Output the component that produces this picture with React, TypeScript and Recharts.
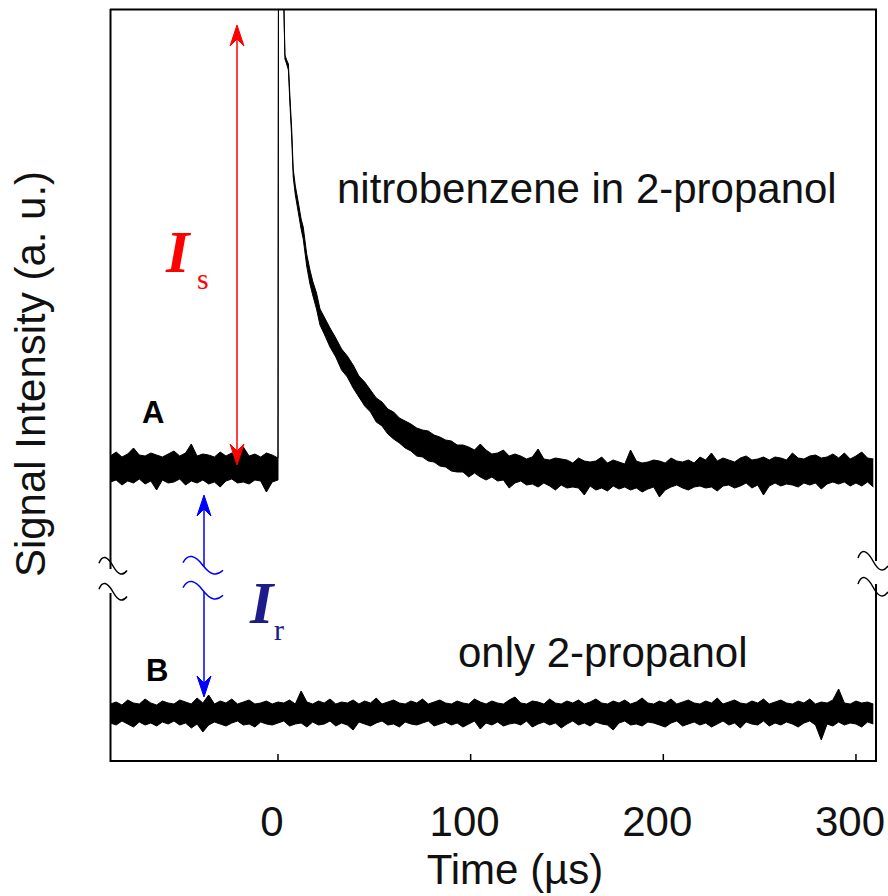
import { ComposedChart, Area, XAxis, YAxis } from "recharts";

// time axis (µs) and signal axis (a.u., bottom of frame = 0)
const X_MIN = -87.2;
const X_MAX = 310.4;
const Y_MAX = 752;
const X_TICKS = [0, 100, 200, 300];

// trace A: nitrobenzene in 2-propanol (noise band low / high)
const TIME_A = [
  -87, -84, -81, -78, -75, -72, -69, -66, -63, -60, -57, -54, -51, -48, -45, -42, -39, -36, -33, -30,
  -27, -24, -21, -18, -15, -12, -9, -6, -3, 0,
  0.3, 2.8,
  3.1, 3.6, 4.5, 5.4, 6.2, 7.1, 7.9, 9, 10.5, 12, 13.1, 14.9, 16.6, 18, 20, 21.8,
  24, 27, 30, 33, 36, 39, 42, 45, 48, 51, 54, 57, 60, 63, 66, 69, 72, 75, 78, 81, 84, 87, 90,
  93, 96, 99, 102, 105, 108, 111, 114, 117, 120, 123, 126, 129, 132, 135, 138, 141, 144, 147, 150,
  153, 156, 159, 162, 165, 168, 171, 174, 177, 180, 183, 186, 189, 192, 195, 198, 201, 204, 207, 210,
  213, 216, 219, 222, 225, 228, 231, 234, 237, 240, 243, 246, 249, 252, 255, 258, 261, 264, 267, 270,
  273, 276, 279, 282, 285, 288, 291, 294, 297, 300, 303, 306, 309,
];
const LOW_A = [
  279, 281, 276, 280, 278, 282, 277, 280, 271, 281, 278, 279, 282, 276, 280, 278, 281, 277, 279, 274,
  280, 282, 278, 279, 277, 281, 280, 269, 279, 281,
  900, 900,
  749, 702, 697, 691, 657, 624, 584, 566, 549, 532, 522, 495, 477, 466, 452, 436,
  427, 414, 404, 391, 384, 373, 364, 355, 349, 339, 335, 327, 322, 318, 313, 310, 305, 304, 300, 299, 295, 294, 290,
  289, 289, 284, 288, 284, 281, 284, 280, 281, 273, 278, 280, 276, 277, 274, 278, 275, 271, 276, 273,
  274, 273, 266, 275, 271, 273, 270, 275, 272, 274, 271, 273, 269, 272, 274, 264, 271, 274, 276, 273,
  271, 274, 275, 273, 274, 270, 275, 276, 273, 275, 278, 273, 276, 266, 275, 278, 275, 277, 276, 274,
  278, 276, 278, 272, 277, 279, 277, 279, 275, 278, 275, 279, 274,
];
const HIGH_A = [
  305, 309, 304, 307, 313, 306, 305, 308, 306, 304, 307, 310, 305, 308, 317, 305, 307, 306, 304, 309,
  305, 308, 306, 314, 305, 307, 304, 308, 306, 303,
  900, 900,
  753, 706, 701, 697, 664, 632, 592, 575, 559, 542, 534, 507, 491, 480, 468, 452,
  444, 433, 423, 412, 405, 396, 385, 379, 371, 363, 359, 352, 349, 343, 340, 337, 333, 331, 330, 326, 324, 321, 320,
  316, 316, 314, 311, 317, 311, 307, 308, 311, 305, 307, 305, 302, 304, 312, 302, 301, 303, 302, 301,
  298, 303, 300, 299, 300, 304, 298, 301, 299, 297, 311, 300, 298, 299, 301, 300, 298, 303, 300, 299,
  301, 298, 304, 301, 308, 300, 303, 301, 299, 303, 305, 301, 302, 304, 301, 304, 303, 301, 308, 303,
  302, 305, 306, 303, 304, 307, 303, 308, 302, 305, 309, 303, 302,
];

// trace B: only 2-propanol
const TIME_B = [
  -87, -84, -81, -78, -75, -72, -69, -66, -63, -60, -57, -54, -51, -48, -45, -42, -39, -36, -33, -30,
  -27, -24, -21, -18, -15, -12, -9, -6, -3, 0, 3, 6, 9, 12, 15, 18, 21, 24, 27, 30,
  33, 36, 39, 42, 45, 48, 51, 54, 57, 60, 63, 66, 69, 72, 75, 78, 81, 84, 87, 90,
  93, 96, 99, 102, 105, 108, 111, 114, 117, 120, 123, 126, 129, 132, 135, 138, 141, 144, 147, 150,
  153, 156, 159, 162, 165, 168, 171, 174, 177, 180, 183, 186, 189, 192, 195, 198, 201, 204, 207, 210,
  213, 216, 219, 222, 225, 228, 231, 234, 237, 240, 243, 246, 249, 252, 255, 258, 261, 264, 267, 270,
  273, 276, 279, 282, 285, 288, 291, 294, 297, 300, 303, 306, 309,
];
const LOW_B = [
  38, 36, 40, 37, 34, 39, 36, 38, 35, 39, 37, 40, 36, 38, 33, 37, 29, 36, 39, 37,
  35, 38, 40, 36, 37, 34, 39, 37, 36, 38, 40, 35, 37, 38, 34, 39, 36, 37, 40, 35,
  38, 36, 31, 39, 37, 35, 38, 40, 36, 37, 34, 39, 37, 36, 38, 40, 35, 37, 39, 36,
  38, 34, 37, 40, 32, 38, 36, 39, 35, 37, 38, 36, 40, 34, 37, 39, 36, 38, 33, 37,
  40, 36, 38, 35, 39, 37, 36, 31, 38, 40, 36, 37, 35, 39, 38, 36, 34, 38, 40, 35,
  37, 39, 36, 38, 34, 37, 40, 36, 38, 33, 39, 37, 36, 40, 35, 38, 36, 39, 37, 34,
  38, 40, 36, 21, 37, 35, 39, 36, 38, 37, 34, 39, 37,
];
const HIGH_B = [
  57, 59, 56, 61, 58, 57, 62, 58, 56, 60, 58, 57, 61, 59, 57, 63, 58, 66, 57, 60,
  58, 62, 57, 59, 61, 57, 58, 60, 57, 59, 58, 61, 57, 70, 59, 57, 60, 58, 62, 57,
  59, 58, 61, 57, 60, 58, 63, 57, 59, 61, 58, 57, 60, 58, 62, 57, 59, 61, 58, 57,
  60, 58, 57, 62, 59, 57, 60, 58, 57, 61, 64, 58, 57, 60, 59, 57, 62, 58, 57, 60,
  58, 61, 57, 59, 62, 58, 57, 60, 58, 61, 57, 59, 63, 58, 57, 60, 58, 62, 57, 59,
  61, 58, 57, 60, 58, 63, 57, 59, 61, 58, 57, 60, 58, 62, 57, 59, 61, 58, 57, 60,
  58, 62, 57, 59, 58, 61, 72, 58, 57, 60, 58, 59, 57,
];

const traceA = TIME_A.map((t, i) => ({ t, range: [LOW_A[i], HIGH_A[i]] }));
const traceB = TIME_B.map((t, i) => ({ t, range: [LOW_B[i], HIGH_B[i]] }));

const SANS = "'Liberation Sans', Arial, sans-serif";
const SERIF = "'Liberation Serif', 'Times New Roman', serif";

function TimeTick(props: any) {
  const { x, y, payload } = props;
  return (
    <g>
      <line x1={x} x2={x} y1={y} y2={y - 7} stroke="#000" strokeWidth={1.5} />
      <text x={x - 6} y={y + 75} textAnchor="middle" fontSize={42} fontFamily={SANS} fill="#111">
        {payload.value}
      </text>
    </g>
  );
}

// little "~" used for the axis / arrow breaks
function squiggle(x0: number, y0: number, w: number, h: number) {
  return `M${x0},${y0 + h * 0.35} C${x0 + w * 0.12},${y0 - h * 0.15} ${x0 + w * 0.3},${y0 - h * 0.05} ${x0 + w * 0.5},${y0 + h * 0.5} S${x0 + w * 0.85},${y0 + h * 1.05} ${x0 + w},${y0 + h * 0.75}`;
}

function arrowHead(x: number, y: number, dir: 1 | -1, color: string) {
  // dir 1 = pointing up, -1 = pointing down
  const d = `M${x},${y} L${x - 7},${y + dir * 21} L${x},${y + dir * 14} L${x + 7},${y + dir * 21} Z`;
  return <path d={d} fill={color} stroke={color} strokeWidth={1} />;
}

function Annotations() {
  return (
    <svg width={888} height={896} style={{ position: "absolute", left: 0, top: 0, pointerEvents: "none" }}>
      {/* frame */}
      <line x1={110} x2={877} y1={9.5} y2={9.5} stroke="#000" strokeWidth={2} />
      <line x1={110.5} x2={110.5} y1={9} y2={569} stroke="#000" strokeWidth={2} />
      <line x1={110.5} x2={110.5} y1={593} y2={762} stroke="#000" strokeWidth={2} />
      <line x1={876} x2={876} y1={9} y2={561} stroke="#000" strokeWidth={2} />
      <line x1={876} x2={876} y1={584} y2={762} stroke="#000" strokeWidth={2} />
      <path d={squiggle(99, 557, 28, 18)} fill="none" stroke="#000" strokeWidth={1.5} />
      <path d={squiggle(99, 583, 28, 18)} fill="none" stroke="#000" strokeWidth={1.5} />
      <path d={squiggle(858, 551, 30, 20)} fill="none" stroke="#000" strokeWidth={1.5} />
      <path d={squiggle(858, 577, 30, 20)} fill="none" stroke="#000" strokeWidth={1.5} />

      {/* Is arrow */}
      <line x1={237} x2={237} y1={30} y2={460} stroke="#ff0000" strokeWidth={1.5} />
      {arrowHead(237, 25, 1, "#ff0000")}
      {arrowHead(237, 465, -1, "#ff0000")}

      {/* Ir arrow with break */}
      <line x1={204} x2={204} y1={500} y2={567} stroke="#0000ff" strokeWidth={1.5} />
      <line x1={204} x2={204} y1={592} y2={692} stroke="#0000ff" strokeWidth={1.5} />
      {arrowHead(204, 495, 1, "#0000ff")}
      {arrowHead(204, 697, -1, "#0000ff")}
      <path d={squiggle(183, 556, 40, 19)} fill="none" stroke="#0000ff" strokeWidth={1.5} />
      <path d={squiggle(183, 581, 40, 19)} fill="none" stroke="#0000ff" strokeWidth={1.5} />

      {/* labels */}
      <text x={166} y={272} fontFamily={SERIF} fontStyle="italic" fontWeight="bold" fontSize={60} fill="#ff0000">
        I
      </text>
      <text x={197} y={289} fontFamily={SERIF} fontSize={30} fill="#ff0000">
        s
      </text>
      <text x={250} y={623} fontFamily={SERIF} fontStyle="italic" fontWeight="bold" fontSize={60} fill="#1c1c8a">
        I
      </text>
      <text x={274} y={640} fontFamily={SERIF} fontSize={30} fill="#1c1c8a">
        r
      </text>
      <text x={142} y={423} fontFamily={SANS} fontWeight="bold" fontSize={31} fill="#000">
        A
      </text>
      <text x={146} y={681} fontFamily={SANS} fontWeight="bold" fontSize={31} fill="#000">
        B
      </text>
      <text x={337} y={203} fontFamily={SANS} fontSize={42} fill="#111">
        nitrobenzene in 2-propanol
      </text>
      <text x={458} y={667} fontFamily={SANS} fontSize={42} fill="#111">
        only 2-propanol
      </text>
      <text x={515} y={884} textAnchor="middle" fontFamily={SANS} fontSize={42} fill="#111">
        Time (µs)
      </text>
      <text
        x={45}
        y={374}
        textAnchor="middle"
        transform="rotate(-90 45 374)"
        fontFamily={SANS}
        fontSize={42}
        fill="#111"
      >
        Signal Intensity (a. u.)
      </text>
    </svg>
  );
}

export default function App() {
  return (
    <div style={{ position: "absolute", left: 0, top: 0, width: 888, height: 896, background: "#fff" }}>
      <ComposedChart width={888} height={896} margin={{ top: 9, right: 12, left: 110, bottom: 75 }}>
        <XAxis
          dataKey="t"
          type="number"
          domain={[X_MIN, X_MAX]}
          ticks={X_TICKS}
          interval={0}
          allowDataOverflow
          height={60}
          axisLine={{ stroke: "#000", strokeWidth: 2 }}
          tickLine={false}
          tickSize={0}
          tickMargin={0}
          tick={(p: any) => <TimeTick {...p} />}
        />
        <YAxis type="number" domain={[0, Y_MAX]} allowDataOverflow hide />
        <Area
          data={traceA}
          dataKey="range"
          type="linear"
          stroke="#000"
          strokeWidth={1}
          fill="#000"
          fillOpacity={1}
          dot={false}
          activeDot={false}
          isAnimationActive={false}
        />
        <Area
          data={traceB}
          dataKey="range"
          type="linear"
          stroke="#000"
          strokeWidth={1}
          fill="#000"
          fillOpacity={1}
          dot={false}
          activeDot={false}
          isAnimationActive={false}
        />
      </ComposedChart>
      <Annotations />
    </div>
  );
}
